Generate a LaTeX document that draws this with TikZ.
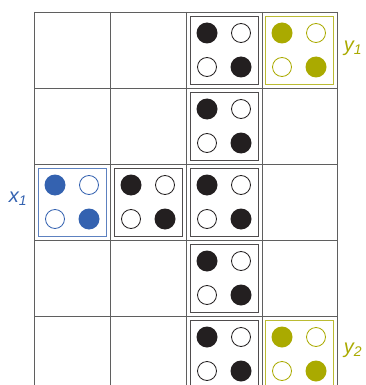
\documentclass[tikz,border=0pt]{standalone}
\usepackage{fontspec}
\setsansfont{Liberation Sans}
\definecolor{dotblack}{RGB}{35,31,32}
\definecolor{oliveyel}{RGB}{170,170,0}
\definecolor{xblue}{RGB}{52,98,176}
\definecolor{gridgray}{RGB}{95,95,95}

% one boxed 2x2 pattern: name, colour, centre
\newcommand{\dotquad}[3]{%
  \node[quadbox=#2] (#1) at (#3) {};
  \node[fulldot=#2] (#1-a) at ([shift={(-17,-17)}]#1.center) {};
  \node[opendot=#2] (#1-b) at ([shift={(17,-17)}]#1.center) {};
  \node[opendot=#2] (#1-c) at ([shift={(-17,17)}]#1.center) {};
  \node[fulldot=#2] (#1-d) at ([shift={(17,17)}]#1.center) {};
}

\begin{document}
\begin{tikzpicture}[x=1pt, y=-1pt,
  gridline/.style={draw=gridgray, line width=0.9pt},
  quadbox/.style={rectangle, draw=#1!80, line width=0.9pt, minimum size=68pt, inner sep=0pt},
  fulldot/.style={circle, fill=#1, minimum size=21pt, inner sep=0pt},
  opendot/.style={circle, draw=#1, line width=0.8pt, fill=white, minimum size=19pt, inner sep=0pt},
  tag/.style={font={\sffamily\itshape\fontsize{20}{20}\selectfont}, text=#1}
]
\useasboundingbox (0,0) rectangle (365,385);
\clip (0,0) rectangle (365,385);

% grid
\foreach \yy in {12,88,164,240,316}
  \draw[gridline] (34,\yy) -- (337,\yy);
\foreach \xx in {34,110,186,262,337}
  \draw[gridline] (\xx,12) -- (\xx,390);

% patterns
\dotquad{r1c3}{dotblack}{224,50}
\dotquad{r1c4}{oliveyel}{299,50}
\dotquad{r2c3}{dotblack}{224,126}
\dotquad{r3c1}{xblue}{72,202}
\dotquad{r3c2}{dotblack}{148,202}
\dotquad{r3c3}{dotblack}{224,202}
\dotquad{r4c3}{dotblack}{224,278}
\dotquad{r5c3}{dotblack}{224,354}
\dotquad{r5c4}{oliveyel}{299,354}

% labels
\node[tag=xblue] (xone) at (18,199) {x\textsubscript{1}};
\node[tag=oliveyel] (yone) at (353,48) {y\textsubscript{1}};
\node[tag=oliveyel] (ytwo) at (353,350) {y\textsubscript{2}};
\end{tikzpicture}
\end{document}
